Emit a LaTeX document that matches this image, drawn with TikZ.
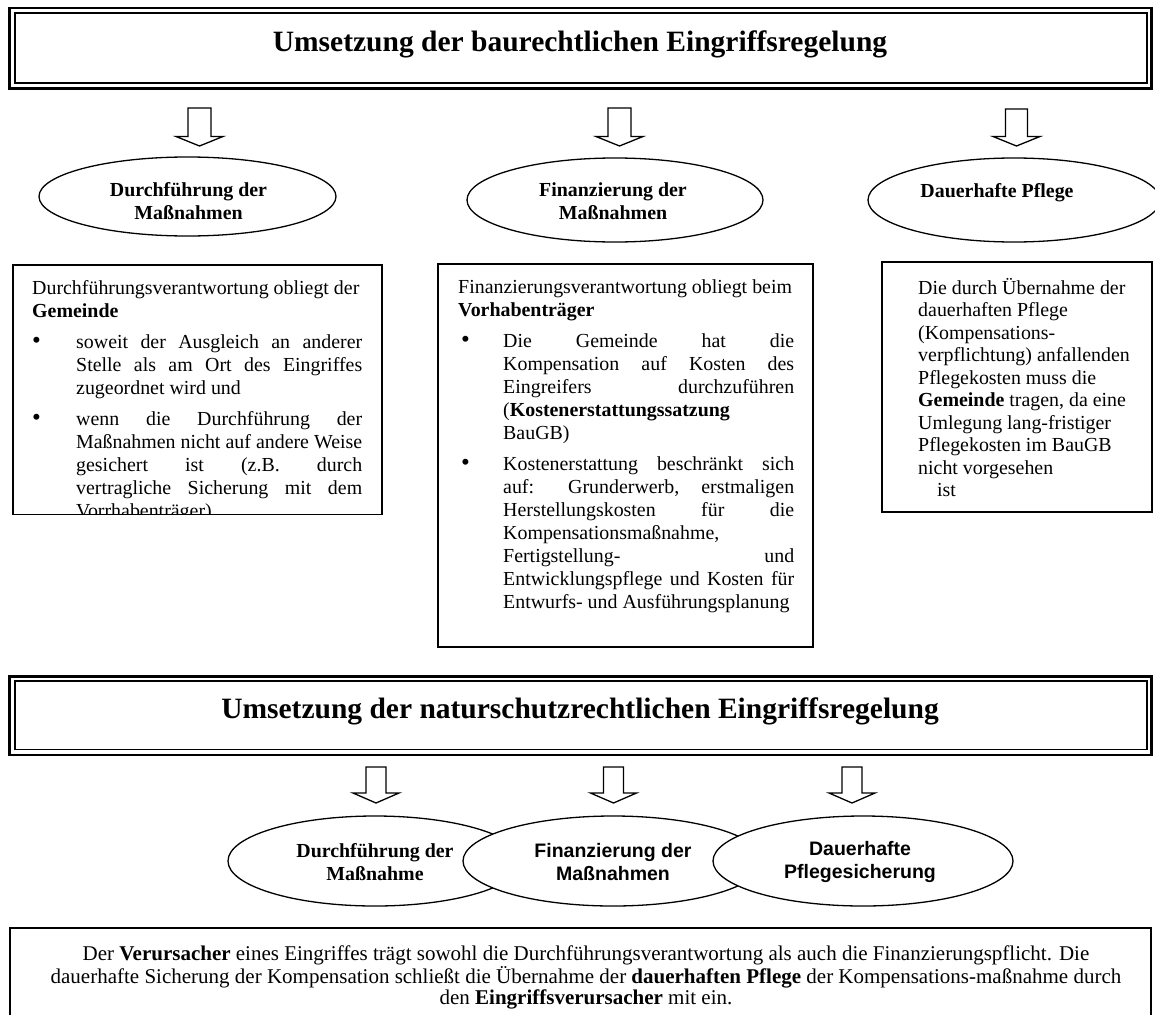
\documentclass[tikz,border=0pt]{standalone}
\usepackage{fontspec}
\setmainfont{Liberation Serif}
\newfontfamily\arialfam{Liberation Sans}
\usetikzlibrary{shapes.geometric}
% justified / left-aligned line of a given width
\newcommand\JL[2]{{\spaceskip=0pt\xspaceskip=0pt\makebox[#1][s]{#2}}}
\newcommand\LL[2]{\makebox[#1][l]{#2}}
\newcommand\bul{{\fontsize{25}{23}\selectfont\textbullet}}
% block arrow: centre x, top, shaft bottom, tip, shaft half width, head half width
\newcommand\BArrow[6]{%
  \draw[barrow] ({#1-#5},#2) -- ({#1+#5},#2) -- ({#1+#5},#3) -- ({#1+#6},#3)
    -- (#1,#4) -- ({#1-#6},#3) -- ({#1-#5},#3) -- cycle;}
\begin{document}
\begin{tikzpicture}[x=1pt,y=-1pt,
  outerframe/.style={draw, line width=2.7pt},
  innerframe/.style={draw, line width=1.7pt},
  titletext/.style={font=\fontsize{29.5}{34}\selectfont\bfseries, inner sep=0pt, anchor=base},
  barrow/.style={draw, line width=1.3pt, fill=white, line join=miter},
  ell/.style={ellipse, draw, line width=1.3pt, fill=white, inner sep=0pt},
  etext/.style={font=\fontsize{19.9}{23}\selectfont\bfseries, align=center, inner sep=0pt},
  esans/.style={font=\fontsize{19.5}{23}\selectfont\arialfam\bfseries, align=center, inner sep=0pt},
  tbox/.style={draw, line width=1.3pt},
  body/.style={font=\fontsize{19.9}{23}\selectfont, inner sep=0pt, text width=380pt, align=flush left, anchor=base west},
  bodyr/.style={font=\fontsize{19.9}{22.5}\selectfont, inner sep=0pt, text width=380pt, align=flush left, anchor=base west},
  bottomtext/.style={font=\fontsize{21}{21.5}\selectfont, inner sep=0pt, align=center},
]
\useasboundingbox (0,0) rectangle (1155,1014);

% ---------- top title ----------
\draw[outerframe] (9.7,8) rectangle (1151.3,88.7);
\draw[innerframe] (14.8,12.8) rectangle (1146.9,83.2);
\node[titletext] (title1) at (580,52) {Umsetzung der baurechtlichen Eingriffsregelung};

% ---------- top arrows ----------
\BArrow{199.5}{108}{136.5}{146}{11.5}{23.5}
\BArrow{619.5}{108}{136.5}{146}{11.5}{23.5}
\BArrow{1016.5}{109}{136.5}{146}{11}{23.5}

% ---------- top ellipses ----------
\node[ell, minimum width=297pt, minimum height=79pt] (e1) at (187.5,196.5) {};
\node[etext] (e1t) at (188.5,201.5) {Durchführung der\\Maßnahmen};
\node[ell, minimum width=296pt, minimum height=84pt] (e2) at (615,200) {};
\node[etext] (e2t) at (613,201.5) {Finanzierung der\\Maßnahmen};
\node[ell, minimum width=292pt, minimum height=84pt] (e3) at (1014,200) {};
\node[etext, anchor=base] (e3t) at (997,197) {Dauerhafte Pflege};

% ---------- left box ----------
\draw[tbox] (13,265) rectangle (382,514.5);
\begin{scope}
\clip (13,265) rectangle (382,513.8);
\node[body] (t1) at (32,294) {\noindent
Durchführungsverantwortung obliegt der\\
\textbf{Gemeinde}\\[8pt]
\makebox[44pt][l]{\bul}\JL{286pt}{soweit der Ausgleich an anderer}\\
\hspace*{44pt}\JL{286pt}{Stelle als am Ort des Eingriffes}\\
\hspace*{44pt}\LL{286pt}{zugeordnet wird und}\\[8pt]
\makebox[44pt][l]{\bul}\JL{286pt}{wenn die Durchführung der}\\
\hspace*{44pt}\JL{286pt}{Maßnahmen nicht auf andere Weise}\\
\hspace*{44pt}\JL{286pt}{gesichert ist (z.B. durch}\\
\hspace*{44pt}\JL{286pt}{vertragliche Sicherung mit dem}\\
\hspace*{44pt}\LL{286pt}{Vorrhabenträger).}};
\end{scope}

% ---------- middle box ----------
\draw[tbox] (438,264) rectangle (813,647);
\node[body] (t2) at (458,293) {\noindent
Finanzierungsverantwortung obliegt beim\\
\textbf{Vorhabenträger}\\[8pt]
\hspace*{3pt}\makebox[42pt][l]{\bul}\JL{291pt}{Die Gemeinde hat die}\\
\hspace*{45pt}\JL{291pt}{Kompensation auf Kosten des}\\
\hspace*{45pt}\JL{291pt}{Eingreifers durchzuführen}\\
\hspace*{45pt}\LL{291pt}{(\textbf{Kostenerstattungssatzung}}\\
\hspace*{45pt}\LL{291pt}{BauGB)}\\[8pt]
\hspace*{3pt}\makebox[42pt][l]{\bul}\JL{291pt}{Kostenerstattung beschränkt sich}\\
\hspace*{45pt}\JL{291pt}{auf: Grunderwerb, erstmaligen}\\
\hspace*{45pt}\JL{291pt}{Herstellungskosten für die}\\
\hspace*{45pt}\LL{291pt}{Kompensationsmaßnahme,}\\
\hspace*{45pt}\JL{291pt}{Fertigstellung- und}\\
\hspace*{45pt}\JL{291pt}{Entwicklungspflege und Kosten für}\\
\hspace*{45pt}\LL{291pt}{Entwurfs- und Ausführungsplanung}};

% ---------- right box ----------
\draw[tbox] (882,262) rectangle (1152,512);
\node[bodyr] (t3) at (918,294) {\noindent
Die durch Übernahme der\\
dauerhaften Pflege\\
(Kompensations-\\
verpflichtung) anfallenden\\
Pflegekosten muss die\\
\textbf{Gemeinde} tragen, da eine\\
Umlegung lang-fristiger\\
Pflegekosten im BauGB\\
nicht vorgesehen\\
\hspace*{19pt}ist};

% ---------- second title ----------
\draw[outerframe] (9.5,676.7) rectangle (1151.3,755);
\draw[innerframe] (14.8,681) rectangle (1146.9,749.5);
\node[titletext] (title2) at (580,718) {Umsetzung der naturschutzrechtlichen Eingriffsregelung};

% ---------- bottom arrows ----------
\BArrow{376}{767}{793}{803}{10}{23}
\BArrow{613.5}{767}{793}{803}{10}{23}
\BArrow{852}{767}{793}{803}{10}{23}

% ---------- bottom ellipses ----------
\node[ell, minimum width=294pt, minimum height=90pt] (e4) at (375,861) {};
\node[ell, minimum width=300pt, minimum height=90pt] (e5) at (613,861) {};
\node[ell, minimum width=300pt, minimum height=90pt] (e6) at (863,861) {};
\node[etext] (e4t) at (375,862) {Durchführung der\\Maßnahme};
\node[esans] (e5t) at (613,862) {Finanzierung der\\Maßnahmen};
\node[esans] (e6t) at (860,862) {Dauerhafte\\Pflegesicherung};

% ---------- bottom box ----------
\draw[tbox] (10,928) rectangle (1151,1030);
\node[bottomtext] (t4) at (586,977.5) {Der \textbf{Verursacher} eines Eingriffes trägt sowohl die Durchführungsverantwortung als auch die Finanzierungspflicht. Die\\
dauerhafte Sicherung der Kompensation schließt die Übernahme der \textbf{dauerhaften Pflege} der Kompensations-maßnahme durch\\
den \textbf{Eingriffsverursacher} mit ein.};
\end{tikzpicture}
\end{document}
